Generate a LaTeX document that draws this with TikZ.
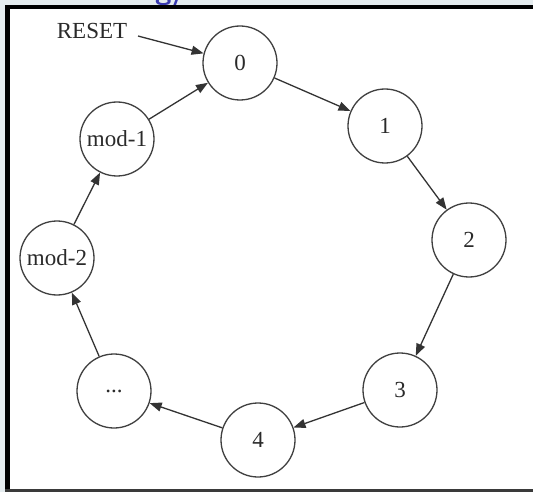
\documentclass[tikz,border=0pt]{standalone}
\usepackage{fontspec}
\setmainfont{Liberation Serif}
\usetikzlibrary{arrows.meta}
\definecolor{bgpale}{HTML}{E5ECEF}
\definecolor{fragblue}{HTML}{3A3AB0}
\definecolor{framegray}{HTML}{3A3A3A}
\definecolor{stategray}{HTML}{404040}
\definecolor{linegray}{HTML}{333333}
\definecolor{textgray}{HTML}{2A2A2A}
\begin{document}
\begin{tikzpicture}[x=1pt,y=-1pt,
  state/.style={circle,draw=stategray,line width=1.3pt,minimum size=74pt,
    inner sep=0pt,font=\fontsize{23}{27}\selectfont,text=textgray},
  trans/.style={draw=linegray,line width=1.3pt,
    -{Triangle[length=12pt,width=9pt]}},
  label/.style={font=\fontsize{23}{27}\selectfont,text=textgray,inner sep=0pt}]
\useasboundingbox (0,0) rectangle (533,492);
% page background and frame
\fill[bgpale] (0,0) rectangle (533,492);
\begin{scope}
  \clip (0,0) rectangle (533,5);
  \node[text=fragblue,font=\sffamily\bfseries\fontsize{30}{32}\selectfont,
    anchor=base west,inner sep=0pt] (frag) at (155,0) {g/};
\end{scope}
\fill[black] (5,5) rectangle (533,9);
\fill[black] (5,5) rectangle (10,490);
\fill[framegray] (5,489) rectangle (533,492);
\fill[white] (10,9) rectangle (533,489);
% states of the counter
\node[state] (n0) at (240,63) {0};
\node[state] (n1) at (385,126) {1};
\node[state] (n2) at (469,240) {2};
\node[state] (n3) at (400,390) {3};
\node[state] (n4) at (258,440) {4};
\node[state] (nd) at (114,391) {...};
\node[state] (nm2) at (57,258) {mod-2};
\node[state] (nm1) at (117,139) {mod-1};
% reset input
\node[label] (reset) at (92,31) {RESET};
\coordinate (rs) at (138,36);
% transitions
\draw[trans] (rs) -- (n0);
\draw[trans] (n0) -- (n1);
\draw[trans] (n1) -- (n2);
\draw[trans] (n2) -- (n3);
\draw[trans] (n3) -- (n4);
\draw[trans] (n4) -- (nd);
\draw[trans] (nd) -- (nm2);
\draw[trans] (nm2) -- (nm1);
\draw[trans] (nm1) -- (n0);
\end{tikzpicture}
\end{document}
